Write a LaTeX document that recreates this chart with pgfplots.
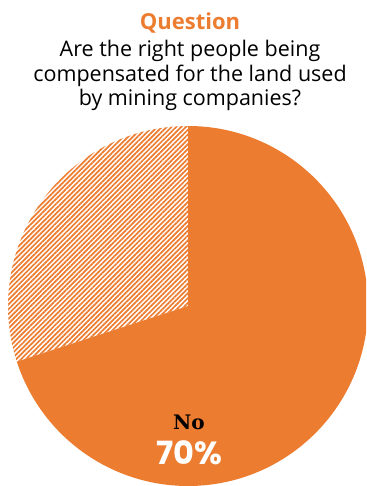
\documentclass[border=0pt]{standalone}
\usepackage{pgfplots}
\pgfplotsset{compat=1.18}
\usepackage{pgfplotstable}
\usetikzlibrary{patterns.meta}
\usepackage{fontspec}
\setmainfont{Open Sans}
\newfontfamily\slab{DejaVu Serif}
\newfontfamily\wide{Poppins}
\definecolor{pieorange}{RGB}{236,124,48}
\pgfplotstableread{
label value
No 70
Yes 30
}\piedata
\pgfplotstablegetelem{0}{value}\of\piedata \let\valNo\pgfplotsretval
\pgfplotstablegetelem{1}{value}\of\piedata \let\valYes\pgfplotsretval
\pgfmathsetmacro{\endNo}{90-3.6*\valNo}
\pgfmathsetmacro{\endYes}{\endNo-3.6*\valYes}
\pgfmathsetmacro{\bx}{180*cos(\endNo)}
\pgfmathsetmacro{\by}{180*sin(\endNo)}
\begin{document}
\begin{tikzpicture}[x=1pt,y=1pt]
\useasboundingbox (0,0) rectangle (366,486);
\clip (0,0) rectangle (366,486);
\begin{axis}[
  at={(188pt,180pt)}, anchor=center,
  scale only axis, width=360pt, height=360pt,
  xmin=-180, xmax=180, ymin=-180, ymax=180,
  hide axis, clip=false,
]
\fill[pieorange] (axis cs:0,0) -- (axis cs:0,180) arc[start angle=90, end angle=\endNo, radius=180pt] -- cycle;
\fill[pattern={Lines[angle=45, distance=3.4pt, line width=1.7pt]}, pattern color=pieorange]
  (axis cs:0,0) -- (axis cs:\bx,\by) arc[start angle=\endNo, end angle=\endYes, radius=180pt] -- cycle;
\end{axis}
\node[anchor=base, text=pieorange, font=\fontsize{22}{24}\selectfont\bfseries] at (190,456) {Question};
\node[anchor=base, font=\fontsize{21.5}{24}\selectfont] at (190,429) {Are the right people being};
\node[anchor=base, font=\fontsize{21.5}{24}\selectfont] at (190,404) {compensated for the land used};
\node[anchor=base, font=\fontsize{21.5}{24}\selectfont] at (190,380) {by mining companies?};
\node[anchor=base, font=\fontsize{20}{22}\selectfont\slab\bfseries] at (189,56) {No};
\node[anchor=base, text=white, font=\fontsize{32}{34}\selectfont\wide\bfseries] at (189,21) {\valNo\%};
\end{tikzpicture}
\end{document}
